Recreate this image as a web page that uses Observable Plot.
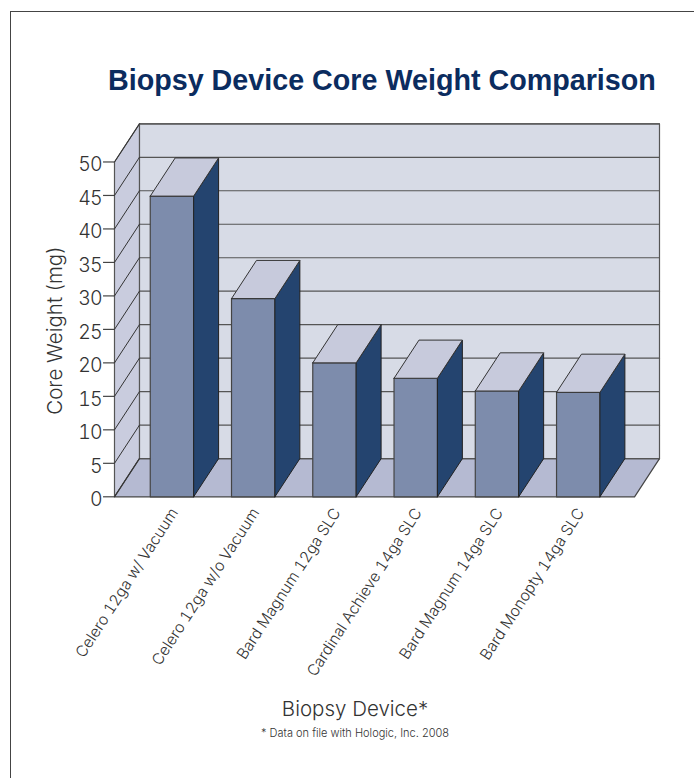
<!DOCTYPE html>
<html><head><meta charset="utf-8">
<script src="https://cdn.jsdelivr.net/npm/d3@7"></script>
<script src="https://cdn.jsdelivr.net/npm/@observablehq/plot@0.6"></script>
<style>
html,body{margin:0;padding:0;background:#fff;overflow:hidden}
#frame{position:absolute;left:10px;top:11px;right:0;bottom:0;border-left:1px solid #444;border-top:1px solid #444}
#page{position:absolute;left:0;top:0;width:694px;height:778px}
#title{position:absolute;left:108px;top:64px;font:bold 28.7px "Liberation Sans",sans-serif;color:#0b2c5f;white-space:nowrap}
#chart{position:absolute;left:0;top:100px}
#chart g[aria-label="y-axis tick label"] text{letter-spacing:-1px}
#xlabel{position:absolute;left:0;width:710px;top:696px;text-align:center;font:300 20.5px Inter,"Liberation Sans",sans-serif;color:#333}
#note{position:absolute;left:0;width:710px;top:726px;text-align:center;font:300 11px Inter,"Liberation Sans",sans-serif;color:#333}
</style></head><body>
<div id="page">
<div id="frame"></div>
<div id="title">Biopsy Device Core Weight Comparison</div>
<div id="chart"></div>
<div id="xlabel">Biopsy Device*</div>
<div id="note">* Data on file with Hologic, Inc. 2008</div>
</div>
<script>
const devices = ["Celero 12ga w/ Vacuum","Celero 12ga w/o Vacuum","Bard Magnum 12ga SLC","Cardinal Achieve 14ga SLC","Bard Magnum 14ga SLC","Bard Monopty 14ga SLC"];
const weights = [44.9,29.6,20,17.7,15.8,15.6];
const yTicks = [0,5,10,15,20,25,30,35,40,45,50];

// 3D projection, in scale units: one x unit is one bar step
const depthX = 0.307, depthY = 5.7;
const floorW = 6.4, barStart = 0.44, barW = 0.534, yMax = 50, tickLen = 0.135;

const poly = (id, pts) => pts.map(([x,y]) => ({id,x,y}));
const shape = (data, fill, o={}) => Plot.line(data, {x:"x", y:"y", z:"id", fill, stroke:"#333", strokeWidth:1, strokeLinejoin:"round", curve:"linear", ...o});

const bars = weights.map((v,i) => ({i, v, l:barStart+i, r:barStart+i+barW}));
const centers = bars.map(b => (b.l+b.r)/2);

const leftWall = poly("w", [[0,0],[depthX,depthY],[depthX,yMax+depthY],[0,yMax],[0,0]]);
const floor = poly("f", [[0,0],[depthX,depthY],[floorW+depthX,depthY],[floorW,0],[0,0]]);
const backWall = poly("b", [[depthX,depthY],[floorW+depthX,depthY],[floorW+depthX,yMax+depthY],[depthX,yMax+depthY],[depthX,depthY]]);
const gridBack = yTicks.flatMap(v => poly("g"+v, [[depthX,v+depthY],[floorW+depthX,v+depthY]]));
const gridSide = yTicks.flatMap(v => poly("s"+v, [[0,v],[depthX,v+depthY]]));
const tops = bars.flatMap(b => poly("t"+b.i, [[b.l,b.v],[b.r,b.v],[b.r+depthX,b.v+depthY],[b.l+depthX,b.v+depthY],[b.l,b.v]]));
const sides = bars.flatMap(b => poly("d"+b.i, [[b.r,0],[b.r+depthX,depthY],[b.r+depthX,b.v+depthY],[b.r,b.v],[b.r,0]]));
const fronts = bars.flatMap(b => poly("n"+b.i, [[b.l,0],[b.r,0],[b.r,b.v],[b.l,b.v],[b.l,0]]));

const H = 590;
const chart = Plot.plot({
  width: 694, height: H,
  marginLeft: 114, marginRight: 35, marginTop: 23.3, marginBottom: 193.7,
  style: {fontFamily: 'Inter,"Liberation Sans",sans-serif', fontWeight: 300, background: "transparent", overflow: "visible"},
  x: {domain: [0, floorW+depthX], axis: null},
  y: {domain: [0, yMax+depthY], axis: null},
  marks: [
    shape(backWall, "#d7dbe6", {stroke:"#555", strokeWidth:1.2}),
    shape(leftWall, "#c9ccde", {stroke:"#555", strokeWidth:1.2}),
    shape(floor, "#b5bad2", {stroke:"#444", strokeWidth:1.2}),
    shape(gridBack, "none", {stroke:"#555", strokeWidth:1.2}),
    shape(gridSide, "none", {stroke:"#333", strokeWidth:1}),
    shape(fronts, "#7d8cac", {stroke:"#444", strokeWidth:1.2}),
    shape(sides, "#24446f", {stroke:"#222"}),
    shape(tops, "#c7cadc", {stroke:"#333"}),
    Plot.ruleY(yTicks, {x1:-tickLen, x2:0, stroke:"#444", strokeWidth:1.2}),
    Plot.axisY({ticks: yTicks, anchor:"left", tickSize:0, tickPadding:13, fontSize:19.5, fill:"#333", label:null, dy:3}),
    Plot.axisX({ticks: centers, anchor:"bottom", tickSize:0, tickPadding:13, tickRotate:-57, fontSize:15.5, fill:"#333", label:null, dx:2.5, tickFormat:(d,i)=>devices[i]}),
    Plot.text(["Core Weight (mg)"], {frameAnchor:"left", dx:-59, y:()=>24.8, rotate:-90, textAnchor:"middle", fontSize:20.5, fill:"#333"})
  ]
});
document.getElementById("chart").append(chart);
</script>
</body></html>
